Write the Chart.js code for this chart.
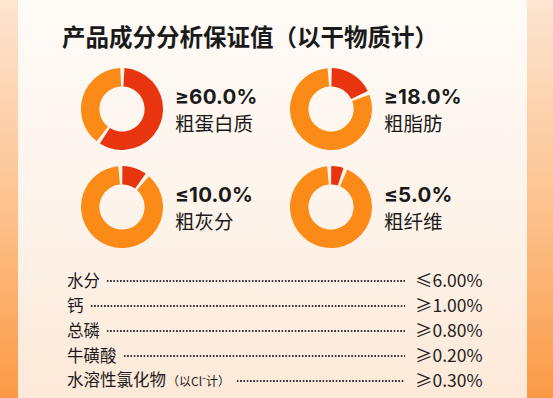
<!DOCTYPE html>
<html>
<head>
<meta charset="utf-8">
<script src="https://cdn.jsdelivr.net/npm/chart.js@4/dist/chart.umd.min.js"></script>
<style>
    html, body {
        margin: 0;
        padding: 0;
    }
    body {
        width: 553px;
        height: 398px;
        overflow: hidden;
        position: relative;
        background: linear-gradient(to bottom, #fde5d0 0%, #fdc08a 55%, #fb9a45 100%);
        font-family: "Noto Sans CJK SC", "Noto Sans", sans-serif;
        color: #1a1a1a;
    }
    .card {
        position: absolute;
        left: 18px;
        top: 0;
        width: 509px;
        height: 398px;
        background: linear-gradient(to bottom, #fffbf7 0%, #fdf3ea 55%, #fde9d8 100%);
    }
    .titulo {
        position: absolute;
        left: 62px;
        top: 20px;
        font-size: 23.5px;
        font-weight: 700;
        line-height: 32px;
        white-space: nowrap;
    }
    .dona {
        position: absolute;
    }
    .dona canvas {
        display: block;
    }
    .pct, .nombre {
        position: absolute;
        white-space: nowrap;
    }
    .pct {
        font-family: "Inter", "Roboto", sans-serif;
        font-size: 20.5px;
        font-weight: 700;
        line-height: 18px;
        letter-spacing: 0.2px;
    }
    .nombre {
        font-size: 19.5px;
        font-weight: 400;
        line-height: 18px;
    }
    .lista {
        position: absolute;
        left: 67px;
        top: 267px;
        width: 415px;
    }
    .fila {
        display: flex;
        align-items: center;
        height: 25px;
        font-size: 16.5px;
        line-height: 20px;
    }
    .fila .etq {
        white-space: nowrap;
    }
    .fila .etq small {
        font-size: 12px;
        margin-left: 1px;
    }
    .fila .puntos {
        flex: 1;
        height: 4px;
        margin: 3px 10px 0 6px;
        background-image: radial-gradient(circle, #333 0.75px, transparent 1.1px);
        background-size: 3.3px 4px;
        background-repeat: repeat-x;
    }
    .fila .valor {
        width: 67px;
        font-size: 17.5px;
        font-weight: 400;
        white-space: nowrap;
        color: #222;
    }
</style>
</head>
<body>
<div class="card"></div>
<div class="titulo">产品成分分析保证值（以干物质计）</div>
<div id="donas"></div>
<div class="lista" id="lista"></div>

<script>
// donas
const nutrientes = ['粗蛋白质', '粗脂肪', '粗灰分', '粗纤维'];
const etiquetasPct = ['≥60.0%', '≥18.0%', '≤10.0%', '≤5.0%'];
const valores = [60, 18, 10, 5];
const resto = [40, 82, 90, 95];

// tabla inferior
const otrosNombres = ['水分', '钙', '总磷', '牛磺酸', '水溶性氯化物'];
const otrosNotas = ['', '', '', '', '（以Cl⁻计）'];
const otrosValores = ['≤6.00%', '≥1.00%', '≥0.80%', '≥0.20%', '≥0.30%'];

const colorRojo = '#e8350f';
const colorNaranja = '#fc8a16';

const centros = [
    { x: 122, y: 109 },
    { x: 331, y: 109 },
    { x: 122, y: 207 },
    { x: 331, y: 207 }
];

const tam = 82;
const contenedor = document.getElementById('donas');

nutrientes.forEach((n, i) => {
    const c = centros[i];

    const caja = document.createElement('div');
    caja.className = 'dona';
    caja.style.left = (c.x - tam / 2) + 'px';
    caja.style.top = (c.y - tam / 2) + 'px';
    caja.innerHTML = `<canvas width="${tam}" height="${tam}"></canvas>`;
    contenedor.appendChild(caja);

    new Chart(caja.querySelector('canvas'), {
        type: 'doughnut',
        data: {
            labels: [n, 'otros'],
            datasets: [{
                data: [valores[i], resto[i]],
                backgroundColor: [colorRojo, colorNaranja],
                borderWidth: 0,
                spacing: 2
            }]
        },
        options: {
            responsive: false,
            animation: false,
            cutout: '54%',
            layout: { padding: 0 },
            plugins: {
                legend: { display: false },
                tooltip: { enabled: false }
            }
        }
    });

    const pct = document.createElement('div');
    pct.className = 'pct';
    pct.style.left = (c.x + 53) + 'px';
    pct.style.top = (c.y - 21) + 'px';
    pct.textContent = etiquetasPct[i];
    contenedor.appendChild(pct);

    const nom = document.createElement('div');
    nom.className = 'nombre';
    nom.style.left = (c.x + 53) + 'px';
    nom.style.top = (c.y + 5) + 'px';
    nom.textContent = n;
    contenedor.appendChild(nom);
});

const lista = document.getElementById('lista');

otrosNombres.forEach((n, i) => {
    const nota = otrosNotas[i] ? `<small>${otrosNotas[i]}</small>` : '';
    lista.innerHTML += `
        <div class="fila">
            <span class="etq">${n}${nota}</span>
            <span class="puntos"></span>
            <span class="valor">${otrosValores[i]}</span>
        </div>
    `;
});
</script>
</body>
</html>
